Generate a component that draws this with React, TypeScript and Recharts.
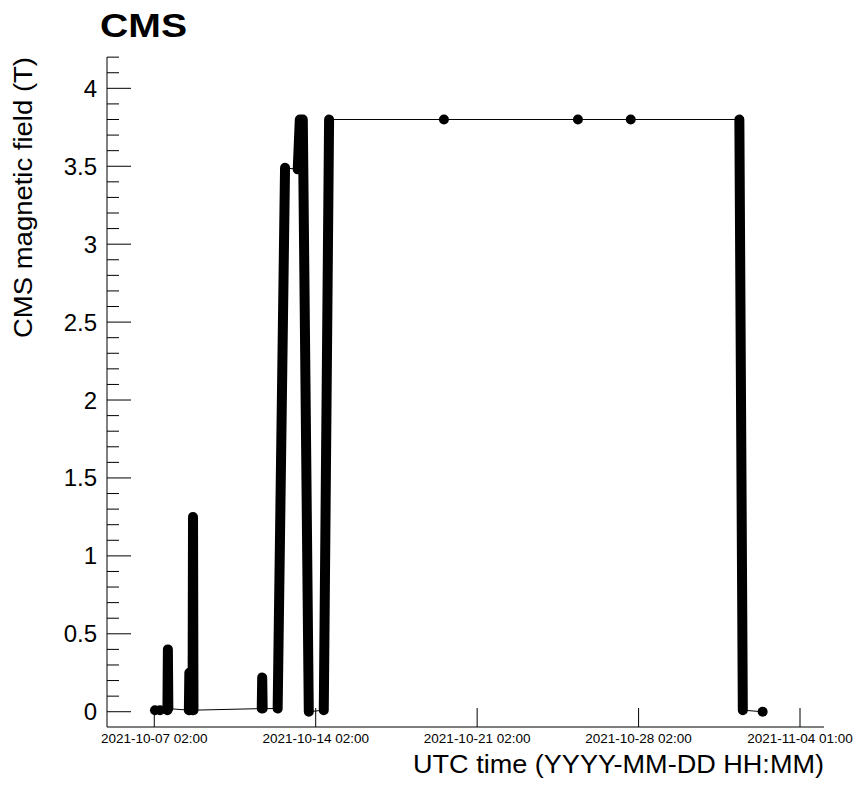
import React from 'react';
import { ComposedChart, Line, Scatter, XAxis, YAxis } from 'recharts';

// Time in days since 2021-10-07 02:00 (UTC), field in tesla
const traceDays = [0.03, 0.25, 0.57, 0.59, 0.61, 1.50, 1.52, 1.54, 1.66, 1.68, 1.70, 4.66, 4.68, 4.70, 5.35, 5.67, 6.22, 6.31, 6.44, 6.70, 7.35, 7.58, 12.56, 18.37, 20.66, 25.37, 25.52, 26.38];
const traceField = [0.01, 0.01, 0.01, 0.40, 0.02, 0.01, 0.25, 0.01, 0.01, 1.25, 0.01, 0.02, 0.22, 0.02, 0.02, 3.49, 3.48, 3.80, 3.80, 0.00, 0.01, 3.80, 3.80, 3.80, 3.80, 3.80, 0.01, 0.00];

// Dense ramp stretches (drawn as thick bars of overlapping markers); null separates ramps
const rampDays = [0.57, 0.59, 0.61, 0.61, 1.50, 1.52, 1.54, 1.54, 1.66, 1.68, 1.70, 1.70, 4.66, 4.68, 4.70, 4.70, 5.35, 5.67, 5.67, 6.22, 6.31, 6.44, 6.70, 6.70, 7.35, 7.58, 7.58, 25.37, 25.52];
const rampField: (number | null)[] = [0.01, 0.40, 0.02, null, 0.01, 0.25, 0.01, null, 0.01, 1.25, 0.01, null, 0.02, 0.22, 0.02, null, 0.02, 3.49, null, 3.48, 3.80, 3.80, 0.00, null, 0.01, 3.80, null, 3.80, 0.01];

// Isolated markers
const dotDays = [0.03, 0.25, 12.56, 18.37, 20.66, 26.38];
const dotField = [0.01, 0.01, 3.80, 3.80, 3.80, 0.00];

const xTicks = [0, 7, 14, 21, 28];
const xTickLabels = ['2021-10-07 02:00', '2021-10-14 02:00', '2021-10-21 02:00', '2021-10-28 02:00', '2021-11-04 01:00'];

const yMajorTicks = [0, 0.5, 1, 1.5, 2, 2.5, 3, 3.5, 4];
const yTickLabels = ['0', '0.5', '1', '1.5', '2', '2.5', '3', '3.5', '4'];
const yAllTicks = [0, 0.1, 0.2, 0.3, 0.4, 0.5, 0.6, 0.7, 0.8, 0.9, 1, 1.1, 1.2, 1.3, 1.4, 1.5, 1.6, 1.7, 1.8, 1.9, 2, 2.1, 2.2, 2.3, 2.4, 2.5, 2.6, 2.7, 2.8, 2.9, 3, 3.1, 3.2, 3.3, 3.4, 3.5, 3.6, 3.7, 3.8, 3.9, 4, 4.1, 4.2];

const xDomain: [number, number] = [-2.05, 29.04];
const yDomain: [number, number] = [-0.098, 4.201];

const traceData = traceDays.map((d, i) => ({ x: d, v: traceField[i] }));
const rampData = rampDays.map((d, i) => ({ x: d, v: rampField[i] }));
const dotData = dotDays.map((d, i) => ({ x: d, v: dotField[i] }));

const FONT = '"Liberation Sans", Arial, Helvetica, sans-serif';

const XTick = (props: any) => {
  const { x, y, payload } = props;
  const idx = xTicks.findIndex((t) => Math.abs(t - payload.value) < 1e-6);
  return (
    <g>
      <line x1={x} y1={y} x2={x} y2={y - 19} stroke="#000" strokeWidth={1} />
      <text x={x} y={y + 16} textAnchor="middle" fontSize={13.5} fontFamily={FONT} fill="#000">
        {idx >= 0 ? xTickLabels[idx] : ''}
      </text>
    </g>
  );
};

const YTick = (props: any) => {
  const { x, y, payload } = props;
  const idx = yMajorTicks.findIndex((t) => Math.abs(t - payload.value) < 1e-6);
  const major = idx >= 0;
  return (
    <g>
      <line x1={x} y1={y} x2={x + (major ? 24 : 12)} y2={y} stroke="#000" strokeWidth={1} />
      {major && (
        <text x={x - 10} y={y + 8.5} textAnchor="end" fontSize={24} fontFamily={FONT} fill="#000">
          {yTickLabels[idx]}
        </text>
      )}
    </g>
  );
};

const Dot = (props: any) => <circle cx={props.cx} cy={props.cy} r={5} fill="#000" />;

export default function App() {
  return (
    <div style={{ position: 'absolute', left: 0, top: 0, width: 856, height: 790, background: '#fff' }}>
      <ComposedChart width={856} height={790} margin={{ top: 57, right: 32, bottom: 0, left: 0 }}>
        <XAxis
          xAxisId={0}
          type="number"
          dataKey="x"
          domain={xDomain}
          allowDataOverflow
          ticks={xTicks}
          interval={0}
          tick={<XTick />}
          tickLine={false}
          tickSize={0}
          tickMargin={0}
          height={63}
          axisLine={{ stroke: '#000', strokeWidth: 1 }}
        />
        <XAxis
          xAxisId="top"
          orientation="top"
          type="number"
          dataKey="x"
          domain={xDomain}
          allowDataOverflow
          tick={false}
          tickLine={false}
          height={0}
          axisLine={{ stroke: '#000', strokeWidth: 1 }}
        />
        <YAxis
          yAxisId={0}
          type="number"
          domain={yDomain}
          allowDataOverflow
          ticks={yAllTicks}
          interval={0}
          tick={<YTick />}
          tickLine={false}
          tickSize={0}
          tickMargin={0}
          width={107}
          axisLine={{ stroke: '#000', strokeWidth: 1 }}
        />
        <YAxis
          yAxisId="right"
          orientation="right"
          type="number"
          domain={yDomain}
          allowDataOverflow
          tick={false}
          tickLine={false}
          width={0}
          axisLine={{ stroke: '#000', strokeWidth: 1 }}
        />
        <Line
          data={traceData}
          dataKey="v"
          type="linear"
          stroke="#000"
          strokeWidth={1}
          dot={false}
          activeDot={false}
          connectNulls
          isAnimationActive={false}
        />
        <Line
          data={rampData}
          dataKey="v"
          type="linear"
          stroke="#000"
          strokeWidth={10}
          strokeLinecap="round"
          strokeLinejoin="round"
          dot={false}
          activeDot={false}
          connectNulls={false}
          isAnimationActive={false}
        />
        <Scatter data={dotData} dataKey="v" shape={<Dot />} isAnimationActive={false} />
      </ComposedChart>
      <svg
        width={856}
        height={790}
        style={{ position: 'absolute', left: 0, top: 0, pointerEvents: 'none' }}
      >
        <text x={100} y={37} fontSize={34} fontWeight="bold" fontFamily={FONT} fill="#000" textLength={87} lengthAdjust="spacingAndGlyphs">
          CMS
        </text>
        <text x={413} y={773} fontSize={25} fontFamily={FONT} fill="#000" textLength={411} lengthAdjust="spacingAndGlyphs">
          UTC time (YYYY-MM-DD HH:MM)
        </text>
        <text
          x={0}
          y={0}
          transform="translate(32,338) rotate(-90)"
          fontSize={25}
          fontFamily={FONT}
          fill="#000"
          textLength={281}
          lengthAdjust="spacingAndGlyphs"
        >
          CMS magnetic field (T)
        </text>
      </svg>
    </div>
  );
}
